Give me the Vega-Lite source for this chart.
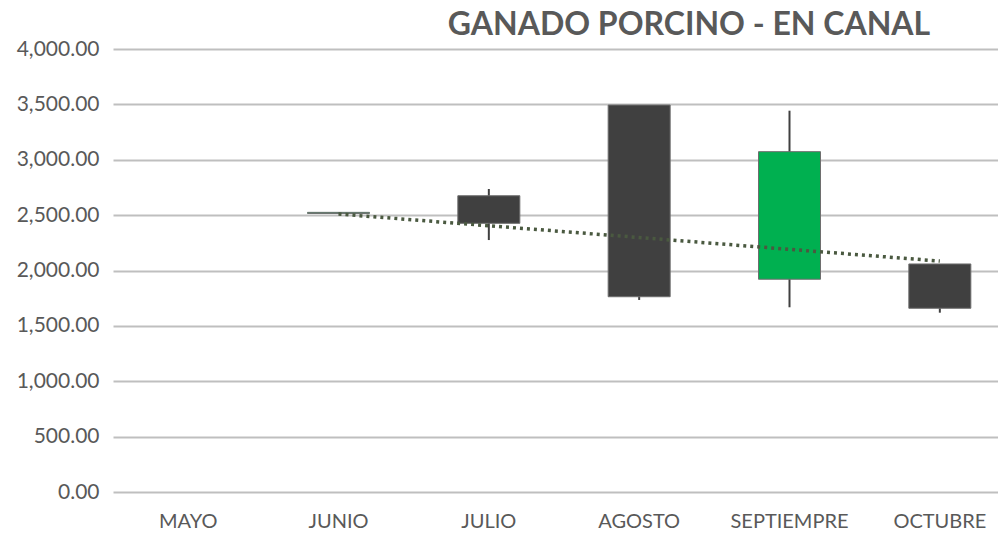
{
  "$schema": "https://vega.github.io/schema/vega-lite/v6.json",
  "width": 902,
  "height": 443,
  "autosize": {"type": "none"},
  "padding": {"left": 113, "top": 49, "right": 0, "bottom": 44},
  "background": "white",
  "config": {
    "view": {"stroke": null},
    "font": "Lato"
  },
  "title": {
    "text": "GANADO PORCINO - EN CANAL",
    "font": "Lato",
    "fontSize": 32,
    "fontWeight": "bold",
    "color": "#595959",
    "anchor": "middle",
    "dx": 125,
    "offset": -4
  },
  "data": {
    "values": [
      {"mes": "JUNIO", "open": 2515, "close": 2525, "high": 2525, "low": 2515, "trend": 2510},
      {"mes": "JULIO", "open": 2675, "close": 2426, "high": 2736, "low": 2275, "trend": 2404},
      {"mes": "AGOSTO", "open": 3494, "close": 1763, "high": 3494, "low": 1734, "trend": 2298},
      {"mes": "SEPTIEMPRE", "open": 1921, "close": 3073, "high": 3443, "low": 1668, "trend": 2191},
      {"mes": "OCTUBRE", "open": 2059, "close": 1659, "high": 2059, "low": 1619, "trend": 2085}
    ]
  },
  "encoding": {
    "x": {
      "field": "mes",
      "type": "nominal",
      "sort": null,
      "scale": {"domain": ["MAYO", "JUNIO", "JULIO", "AGOSTO", "SEPTIEMPRE", "OCTUBRE"], "paddingInner": 0, "paddingOuter": 0},
      "axis": {
        "title": null,
        "labelAngle": 0,
        "labelFont": "Lato",
        "labelFontSize": 20,
        "labelColor": "#595959",
        "labelPadding": 19,
        "ticks": false,
        "domain": false,
        "grid": false
      }
    }
  },
  "layer": [
    {
      "mark": {"type": "rule", "color": "#404040", "strokeWidth": 2},
      "encoding": {
        "y": {
          "field": "low",
          "type": "quantitative",
          "scale": {"domain": [0, 4000]},
          "axis": {
            "title": null,
            "values": [0, 500, 1000, 1500, 2000, 2500, 3000, 3500, 4000],
            "format": ",.2f",
            "labelFont": "Lato",
            "labelFontSize": 21,
            "labelColor": "#595959",
            "labelPadding": 14,
            "ticks": false,
            "domain": false,
            "grid": true,
            "gridColor": "#bfbfbf",
            "gridWidth": 2
          }
        },
        "y2": {"field": "high"}
      }
    },
    {
      "mark": {"type": "bar", "size": 62, "stroke": "#6e6e6e", "strokeWidth": 1},
      "encoding": {
        "y": {"field": "open", "type": "quantitative"},
        "y2": {"field": "close"},
        "color": {
          "condition": {"test": "datum.close > datum.open", "value": "#00b050"},
          "value": "#404040"
        }
      }
    },
    {
      "mark": {"type": "line", "color": "#4a5940", "strokeWidth": 3.5, "strokeDash": [3, 4]},
      "encoding": {
        "y": {"field": "trend", "type": "quantitative"}
      }
    }
  ]
}
